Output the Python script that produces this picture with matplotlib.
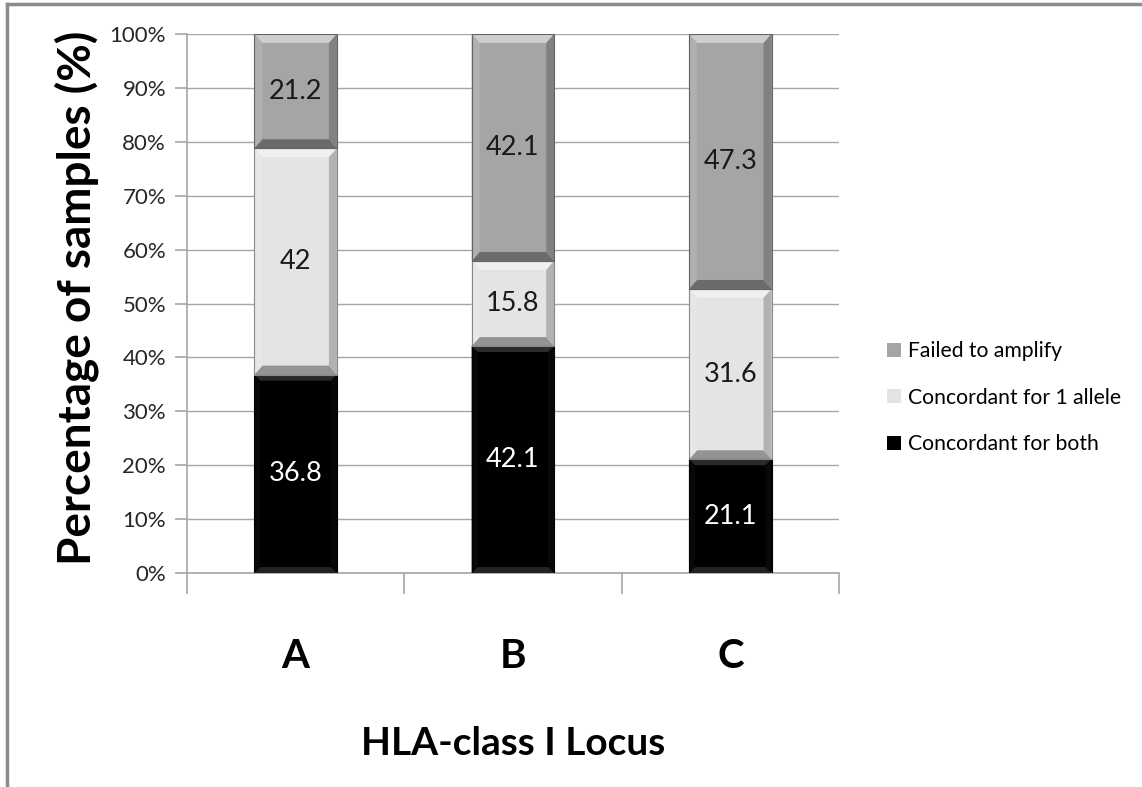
import numpy as np
import matplotlib.pyplot as plt
from matplotlib.patches import Polygon
from matplotlib.lines import Line2D
from matplotlib.colors import to_rgb

plt.rcParams['font.family'] = ['Lato', 'DejaVu Sans']

loci = ['A', 'B', 'C']
both = [36.8, 42.1, 21.1]
one_allele = [42, 15.8, 31.6]
failed = [21.2, 42.1, 47.3]

series = [
    ('Concordant for both', both, '#000000', 'white'),
    ('Concordant for 1 allele', one_allele, '#e4e4e4', '#1a1a1a'),
    ('Failed to amplify', failed, '#a5a5a5', '#1a1a1a'),
]


def mix(c, other, t):
    c = np.array(to_rgb(c))
    o = np.array(to_rgb(other))
    return tuple(c * (1 - t) + o * t)


fig = plt.figure(figsize=(11.42, 7.87), dpi=100)
ax = fig.add_axes([0.1637, 0.2719, 0.5709, 0.6849])
ax.set_xlim(-0.5, 2.5)
ax.set_ylim(0, 100)

x = np.arange(len(loci))
width = 0.38
bottom = np.zeros(len(loci))
handles = []
for name, vals, col, tcol in series:
    bars = ax.bar(x, vals, width, bottom=bottom, color=col, edgecolor='none',
                  zorder=2, label=name)
    handles.append(bars)
    for b, v in zip(bars, vals):
        ax.text(b.get_x() + b.get_width() / 2, b.get_y() + b.get_height() / 2,
                f'{v:g}', ha='center', va='center', color=tcol, fontsize=19.5,
                zorder=5)
    bottom += np.array(vals)

# bevel edges on each segment, sized in pixels
fig.canvas.draw()
px_x = 1.0 / (ax.transData.transform((1, 0))[0] - ax.transData.transform((0, 0))[0])
px_y = 1.0 / (ax.transData.transform((0, 1))[1] - ax.transData.transform((0, 0))[1])
for bars, (name, vals, col, tcol) in zip(handles, series):
    for b in bars:
        x0, y0 = b.get_x(), b.get_y()
        x1, y1 = x0 + b.get_width(), y0 + b.get_height()
        if col == '#000000':
            bx, by = 6 * px_x, 6 * px_y
            top_c, bot_c, left_c, right_c = '#2a2a2a', '#222222', '#080808', '#080808'
        else:
            bx, by = 8 * px_x, 9 * px_y
            top_c = mix(col, 'white', 0.45)
            bot_c = mix(col, 'black', 0.35)
            left_c = mix(col, 'white', 0.12)
            right_c = mix(col, 'black', 0.22)
        faces = [
            ([(x0, y1), (x1, y1), (x1 - bx, y1 - by), (x0 + bx, y1 - by)], top_c),
            ([(x0, y0), (x1, y0), (x1 - bx, y0 + by), (x0 + bx, y0 + by)], bot_c),
            ([(x0, y0), (x0, y1), (x0 + bx, y1 - by), (x0 + bx, y0 + by)], left_c),
            ([(x1, y0), (x1, y1), (x1 - bx, y1 - by), (x1 - bx, y0 + by)], right_c),
        ]
        for pts, fc in faces:
            ax.add_patch(Polygon(pts, closed=True, facecolor=fc, edgecolor='none',
                                 zorder=3))
        ax.add_patch(Polygon([(x0, y0), (x1, y0), (x1, y1), (x0, y1)], closed=True,
                             facecolor='none', edgecolor=mix(col, 'black', 0.4),
                             lw=0.8, zorder=4))

ax.set_yticks(np.arange(0, 101, 10))
ax.set_yticklabels([f'{v}%' for v in range(0, 101, 10)], fontsize=16)
ax.yaxis.grid(True, color='#a6a6a6', lw=1, zorder=0)
ax.set_axisbelow(True)

ax.set_xticks(x)
ax.set_xticklabels(loci, fontsize=29, fontweight='bold')
ax.set_xticks(np.arange(-0.5, 2.6, 1), minor=True)
ax.tick_params(axis='x', which='major', length=0, pad=47)
ax.tick_params(axis='x', which='minor', length=15, color='#a6a6a6', width=1.2)
ax.tick_params(axis='y', length=9, color='#a6a6a6', width=1.2, pad=6,
               labelcolor='#262626')

for s in ['top', 'right']:
    ax.spines[s].set_visible(False)
for s in ['left', 'bottom']:
    ax.spines[s].set_color('#a6a6a6')
    ax.spines[s].set_linewidth(1.2)

ax.set_ylabel('Percentage of samples (%)', fontsize=33, fontweight='bold')
ax.yaxis.set_label_coords(-0.135, 0.51)
ax.set_xlabel('HLA-class I Locus', fontsize=28, fontweight='bold')
ax.xaxis.set_label_coords(0.5, -0.283)

ax.legend(handles[::-1], [s[0] for s in series][::-1], loc='center left',
          bbox_to_anchor=(1.045, 0.325), frameon=False, fontsize=15.2,
          handlelength=0.65, handleheight=0.65, handletextpad=0.35, labelspacing=1.25)

# outer frame
fig.add_artist(Line2D([0.006, 1.0], [0.995, 0.995], color='#8c8c8c', lw=2.5,
                      transform=fig.transFigure))
fig.add_artist(Line2D([0.006, 0.006], [0.0, 0.995], color='#8c8c8c', lw=2.5,
                      transform=fig.transFigure))

fig.savefig('out.png', dpi=100)
